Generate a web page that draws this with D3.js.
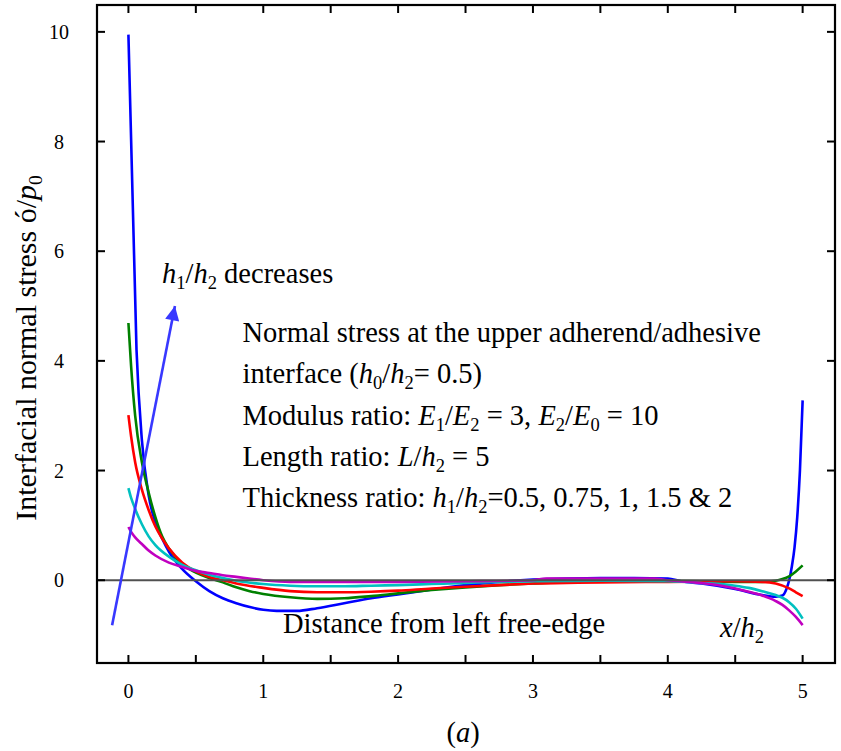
<!DOCTYPE html>
<html>
<head>
<meta charset="utf-8">
<script src="https://cdn.jsdelivr.net/npm/d3@7"></script>
<style>
  body { margin: 0; background: #fff; }
  text { font-family: "Liberation Serif", "Times New Roman", serif; fill: #000; }
</style>
</head>
<body>
<div id="chart"></div>
<script>
// Curves: x/h2 positions and normal stress for each thickness ratio h1/h2
const ratios = ["0.5", "0.75", "1", "1.5", "2"];

const xBlue = [0, 0.06, 0.1, 0.15, 0.2, 0.25, 0.3, 0.4, 0.5, 0.6, 0.7, 0.8, 0.9, 1.0, 1.1, 1.25, 1.4, 1.6, 1.8, 2.0,
               2.25, 2.5, 2.75, 3.0, 3.25, 3.5, 3.75, 4.0, 4.1, 4.25, 4.5, 4.7, 4.8, 4.85, 4.88, 4.9, 4.92, 4.94, 4.96, 4.98, 5.0];
const yBlue = [9.95, 4.2, 2.55, 1.55, 1.05, 0.76, 0.52, 0.2, -0.02, -0.2, -0.33, -0.42, -0.49, -0.54, -0.56, -0.56, -0.51, -0.42, -0.33, -0.26,
               -0.17, -0.09, -0.03, 0.01, 0.03, 0.04, 0.04, 0.03, -0.02, -0.06, -0.16, -0.27, -0.3, -0.28, -0.16, 0.0, 0.25, 0.6, 1.15, 2.0, 3.28];

const xGreen = [0, 0.02, 0.05, 0.1, 0.15, 0.2, 0.25, 0.3, 0.4, 0.5, 0.6, 0.7, 0.8, 0.9, 1.0, 1.2, 1.4, 1.6, 1.8, 2.0,
                2.25, 2.5, 2.75, 3.0, 3.25, 3.5, 4.0, 4.5, 4.7, 4.8, 4.85, 4.9, 4.95, 5.0];
const yGreen = [4.69, 3.9, 3.0, 2.15, 1.6, 1.15, 0.8, 0.58, 0.29, 0.14, 0.04, -0.04, -0.13, -0.2, -0.25, -0.31, -0.34, -0.33, -0.29, -0.24,
                -0.18, -0.13, -0.09, -0.06, -0.03, -0.02, -0.01, -0.03, -0.03, -0.01, 0.02, 0.07, 0.16, 0.27];

const xRed = [0, 0.02, 0.05, 0.1, 0.15, 0.2, 0.25, 0.3, 0.4, 0.5, 0.6, 0.7, 0.8, 1.0, 1.2, 1.4, 1.6, 1.8, 2.0, 2.25,
              2.5, 2.75, 3.0, 3.25, 3.5, 4.0, 4.5, 4.7, 4.8, 4.9, 4.95, 5.0];
const yRed = [3.01, 2.62, 2.15, 1.65, 1.28, 0.98, 0.76, 0.58, 0.32, 0.16, 0.06, 0.0, -0.06, -0.14, -0.2, -0.22, -0.22, -0.21, -0.19, -0.15,
              -0.12, -0.09, -0.06, -0.05, -0.04, -0.03, -0.02, -0.03, -0.06, -0.15, -0.22, -0.29];

const xCyan = [0, 0.02, 0.05, 0.1, 0.15, 0.2, 0.3, 0.4, 0.5, 0.6, 0.7, 0.8, 1.0, 1.2, 1.4, 1.6, 1.8, 2.0, 2.25, 2.5,
               2.75, 3.0, 3.5, 4.0, 4.25, 4.5, 4.6, 4.7, 4.8, 4.85, 4.9, 4.95, 5.0];
const yCyan = [1.68, 1.5, 1.3, 1.02, 0.8, 0.64, 0.43, 0.28, 0.18, 0.1, 0.04, -0.01, -0.07, -0.1, -0.11, -0.11, -0.1, -0.09, -0.07, -0.05,
               -0.03, -0.02, -0.01, -0.02, -0.05, -0.1, -0.14, -0.2, -0.27, -0.32, -0.4, -0.52, -0.7];

const xMagenta = [0, 0.02, 0.05, 0.1, 0.15, 0.2, 0.3, 0.4, 0.5, 0.6, 0.7, 0.8, 1.0, 1.2, 1.5, 2.0, 2.5, 3.0, 3.1, 3.5,
                  3.9, 4.0, 4.2, 4.4, 4.6, 4.7, 4.8, 4.85, 4.9, 4.95, 5.0];
const yMagenta = [0.97, 0.88, 0.78, 0.66, 0.54, 0.45, 0.32, 0.24, 0.17, 0.13, 0.09, 0.06, 0.0, -0.03, -0.03, -0.03, -0.02, 0.0, 0.03, 0.03,
                  0.03, 0.0, -0.04, -0.1, -0.21, -0.28, -0.38, -0.45, -0.55, -0.67, -0.82];

// Axis ticks
const xTicks = [0, 0.5, 1, 1.5, 2, 2.5, 3, 3.5, 4, 4.5, 5];
const xTickLabels = [0, 1, 2, 3, 4, 5];
const yTicks = [0, 2, 4, 6, 8, 10];

// Arrow "h1/h2 decreases": start and tip in data units
const arrowFrom = [-0.121, -0.82];
const arrowTo = [0.345, 5.0];

const colors = ["#0000ff", "#008000", "#ff0000", "#00c0c0", "#c000c0"];

const series = [
    { name: ratios[0], xs: xBlue, ys: yBlue },
    { name: ratios[1], xs: xGreen, ys: yGreen },
    { name: ratios[2], xs: xRed, ys: yRed },
    { name: ratios[3], xs: xCyan, ys: yCyan },
    { name: ratios[4], xs: xMagenta, ys: yMagenta }
].map((s, i) => ({ ...s, color: colors[i], points: s.xs.map((x, j) => [x, s.ys[j]]) }));

// Layout
const W = 841, H = 751;
const margin = { top: 5, right: 6, bottom: 88, left: 97 },
      width = W - margin.left - margin.right,
      height = H - margin.top - margin.bottom;

const svg = d3.select("#chart").append("svg")
    .attr("width", W)
    .attr("height", H)
    .style("display", "block");

svg.append("rect").attr("width", W).attr("height", H).attr("fill", "#fff");

const g = svg.append("g").attr("transform", `translate(${margin.left},${margin.top})`);

const x = d3.scaleLinear().domain([-0.233, 5.24]).range([0, width]);
const y = d3.scaleLinear().domain([-1.51, 10.49]).range([height, 0]);

// Curves
const line = d3.line()
    .x(d => x(d[0]))
    .y(d => y(d[1]))
    .curve(d3.curveMonotoneX);

g.selectAll(".curve")
  .data(series)
  .enter().append("path")
    .attr("class", "curve")
    .attr("fill", "none")
    .attr("stroke", d => d.color)
    .attr("stroke-width", 2.6)
    .attr("stroke-linejoin", "round")
    .attr("d", d => line(d.points));

// Zero reference line
g.append("line")
    .attr("x1", 0).attr("x2", width)
    .attr("y1", y(0)).attr("y2", y(0))
    .attr("stroke", "#505050")
    .attr("stroke-width", 2);

// Frame and inward ticks
g.append("rect")
    .attr("width", width).attr("height", height)
    .attr("fill", "none").attr("stroke", "#000").attr("stroke-width", 2.2);

const tickLen = 8;
g.append("g").selectAll("line").data(xTicks).enter().append("line")
    .attr("x1", d => x(d)).attr("x2", d => x(d))
    .attr("y1", height).attr("y2", height - tickLen)
    .attr("stroke", "#000").attr("stroke-width", 2);
g.append("g").selectAll("line").data(xTicks).enter().append("line")
    .attr("x1", d => x(d)).attr("x2", d => x(d))
    .attr("y1", 0).attr("y2", tickLen)
    .attr("stroke", "#000").attr("stroke-width", 2);
g.append("g").selectAll("line").data(yTicks).enter().append("line")
    .attr("x1", 0).attr("x2", tickLen)
    .attr("y1", d => y(d)).attr("y2", d => y(d))
    .attr("stroke", "#000").attr("stroke-width", 2);
g.append("g").selectAll("line").data(yTicks).enter().append("line")
    .attr("x1", width).attr("x2", width - tickLen)
    .attr("y1", d => y(d)).attr("y2", d => y(d))
    .attr("stroke", "#000").attr("stroke-width", 2);

// Tick labels
g.append("g").selectAll("text").data(xTickLabels).enter().append("text")
    .attr("x", d => x(d))
    .attr("y", height + 35)
    .attr("text-anchor", "middle")
    .style("font-size", "20px")
    .text(d => d);
g.append("g").selectAll("text").data(yTicks).enter().append("text")
    .attr("x", -38)
    .attr("y", d => y(d))
    .attr("dy", "0.35em")
    .attr("text-anchor", "middle")
    .style("font-size", "20px")
    .text(d => d);

// Rich text helper: parts are [string, style] with style "" | "i" (italic) | "s" (subscript)
function rich(parent, px, py, parts, size, anchor) {
    const t = parent.append("text")
        .attr("x", px).attr("y", py)
        .attr("text-anchor", anchor || "start")
        .style("font-size", size + "px");
    let shifted = false;
    parts.forEach(([str, st]) => {
        const sp = t.append("tspan").text(str);
        if (st === "i") sp.style("font-style", "italic");
        if (st === "s") {
            sp.style("font-size", (size * 0.65) + "px").attr("dy", size * 0.2);
            shifted = true;
        } else if (shifted) {
            sp.attr("dy", -size * 0.2);
            shifted = false;
        }
    });
    return t;
}

const fs = 28.5;

// Arrow
svg.append("defs").append("marker")
    .attr("id", "head")
    .attr("viewBox", "0 0 10 10")
    .attr("refX", 10).attr("refY", 5)
    .attr("markerWidth", 9).attr("markerHeight", 5.5)
    .attr("markerUnits", "strokeWidth")
    .attr("orient", "auto")
  .append("path")
    .attr("d", "M0,0 L10,5 L0,10 z")
    .attr("fill", "#3838ff");

g.append("line")
    .attr("x1", x(arrowFrom[0])).attr("y1", y(arrowFrom[1]))
    .attr("x2", x(arrowTo[0])).attr("y2", y(arrowTo[1]))
    .attr("stroke", "#3838ff")
    .attr("stroke-width", 2.6)
    .attr("marker-end", "url(#head)");

// Annotations
rich(svg, 162, 283, [["h", "i"], ["1", "s"], ["/", ""], ["h", "i"], ["2", "s"], [" decreases", ""]], fs);

const lx = 242.5;
rich(svg, lx, 341.5, [["Normal stress at the upper adherend/adhesive", ""]], fs);
rich(svg, lx, 383, [["interface (", ""], ["h", "i"], ["0", "s"], ["/", ""], ["h", "i"], ["2", "s"], ["= 0.5)", ""]], fs);
rich(svg, lx, 425, [["Modulus ratio: ", ""], ["E", "i"], ["1", "s"], ["/", ""], ["E", "i"], ["2", "s"],
                    [" = 3, ", ""], ["E", "i"], ["2", "s"], ["/", ""], ["E", "i"], ["0", "s"], [" = 10", ""]], fs);
rich(svg, lx, 466, [["Length ratio: ", ""], ["L", "i"], ["/", ""], ["h", "i"], ["2", "s"], [" = 5", ""]], fs);
rich(svg, lx, 507, [["Thickness ratio: ", ""], ["h", "i"], ["1", "s"], ["/", ""], ["h", "i"], ["2", "s"],
                    ["=0.5, 0.75, 1, 1.5 & 2", ""]], fs);

rich(svg, 283, 633, [["Distance from left free-edge", ""]], fs);
rich(svg, 720, 637, [["x", "i"], ["/", ""], ["h", "i"], ["2", "s"]], fs);
rich(svg, 463, 742, [["(", ""], ["a", "i"], [")", ""]], fs, "middle");

// Y axis title
const yt = svg.append("g").attr("transform", "translate(36,348) rotate(-90)");
rich(yt, 0, 0, [["Interfacial normal stress ó/", ""], ["p", "i"], ["0", "s"]], 30, "middle");
</script>
</body>
</html>
